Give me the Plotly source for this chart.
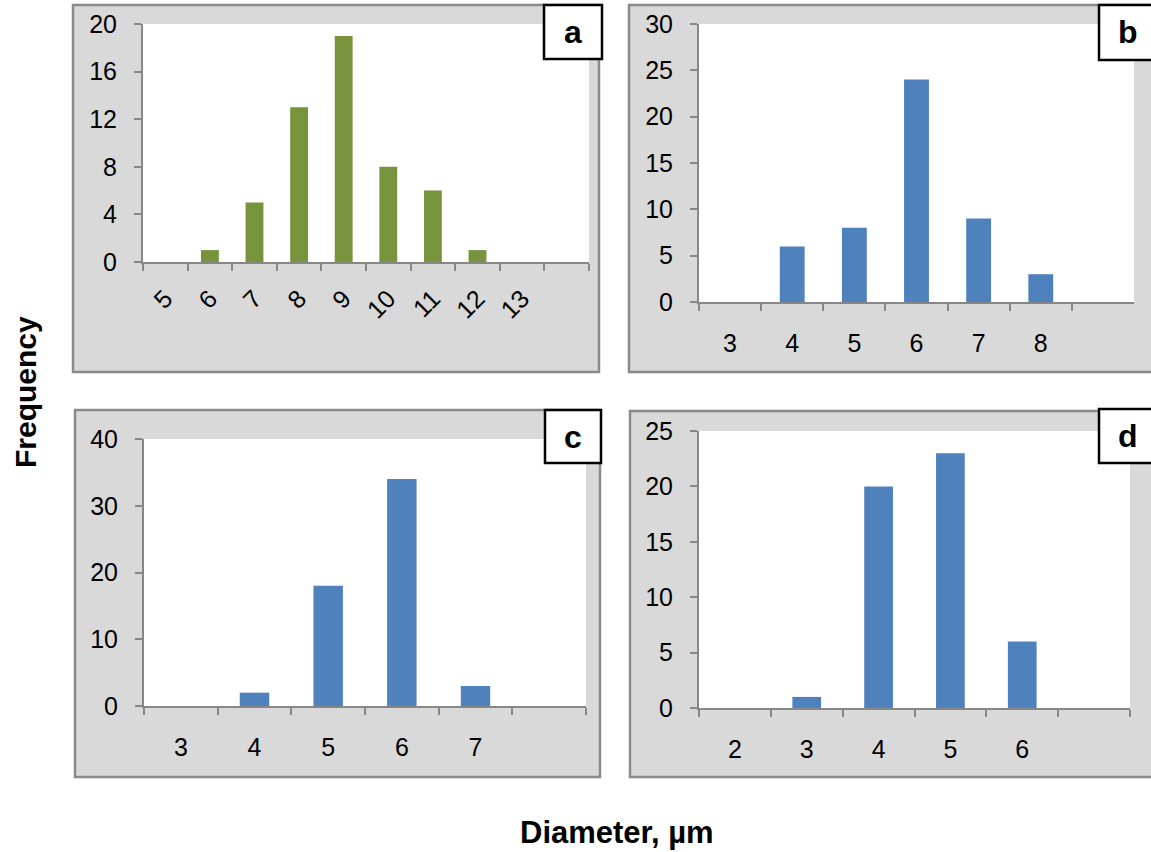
import plotly.graph_objects as go

W, H = 1151, 852

# ---- data ----
cats_a = ["5", "6", "7", "8", "9", "10", "11", "12", "13", " "]
vals_a = [0, 1, 5, 13, 19, 8, 6, 1, 0, 0]

cats_b = ["3", "4", "5", "6", "7", "8", " "]
vals_b = [0, 6, 8, 24, 9, 3, 0]

cats_c = ["3", "4", "5", "6", "7", " "]
vals_c = [0, 2, 18, 34, 3, 0]

cats_d = ["2", "3", "4", "5", "6", " "]
vals_d = [0, 1, 20, 23, 6, 0]

panel_letters = ["a", "b", "c", "d"]
y_ticks_a = [0, 4, 8, 12, 16, 20]
y_ticks_b = [0, 5, 10, 15, 20, 25, 30]
y_ticks_c = [0, 10, 20, 30, 40]
y_ticks_d = [0, 5, 10, 15, 20, 25]

GREEN = "#77933C"
BLUE = "#4F81BD"
AXC = "#878787"
FONT = "Liberation Sans, Arial, sans-serif"


def px_x(p):
    return p / W


def px_y(p):
    return 1 - p / H


# panel geometry (pixels): plot area and outer gray box and letter box
panels = [
    dict(cats=cats_a, vals=vals_a, color=GREEN, ticks=y_ticks_a, ymax=20,
         plot=(143, 589, 24, 262), box=(73, 599, 5, 372), lab=(544, 602, 5, 59), angle=-45),
    dict(cats=cats_b, vals=vals_b, color=BLUE, ticks=y_ticks_b, ymax=30,
         plot=(699, 1134, 24, 302), box=(629, 1160, 5, 372), lab=(1099, 1160, 5, 60), angle=0),
    dict(cats=cats_c, vals=vals_c, color=BLUE, ticks=y_ticks_c, ymax=40,
         plot=(144, 586, 439, 706), box=(75, 600, 410, 777), lab=(545, 601, 410, 463), angle=0),
    dict(cats=cats_d, vals=vals_d, color=BLUE, ticks=y_ticks_d, ymax=25,
         plot=(699, 1130, 431, 708), box=(630, 1160, 411, 777), lab=(1099, 1160, 409, 463), angle=0),
]
letter_x = [573, 1128, 573, 1128]

fig = go.Figure()
shapes = []
annotations = []
layout = {}

for i, p in enumerate(panels):
    n = "" if i == 0 else str(i + 1)
    xa, ya = "x" + n, "y" + n
    fig.add_trace(go.Bar(x=p["cats"], y=p["vals"], marker=dict(color=p["color"], line=dict(width=0)),
                         width=0.4, xaxis=xa, yaxis=ya, showlegend=False, hoverinfo="x+y"))
    x0, x1, y0, y1 = p["plot"]
    layout["xaxis" + n] = dict(
        domain=[px_x(x0), px_x(x1)], anchor=ya, type="category", automargin=False,
        showline=True, linecolor=AXC, linewidth=2, showgrid=False, zeroline=False,
        ticks="outside", tickson="boundaries", ticklen=7, tickwidth=2, tickcolor=AXC,
        tickangle=p["angle"], ticklabelstandoff=18 if p["angle"] == 0 else 10,
        tickfont=dict(family=FONT, size=25, color="#000000"), fixedrange=True,
    )
    layout["yaxis" + n] = dict(
        domain=[px_y(y1), px_y(y0)], anchor=xa, range=[0, p["ymax"]], automargin=False,
        tickvals=p["ticks"], showline=True, linecolor=AXC, linewidth=2,
        showgrid=False, zeroline=False, ticks="outside", ticklen=7, tickwidth=2, tickcolor=AXC,
        ticklabelstandoff=12, tickfont=dict(family=FONT, size=25, color="#000000"), fixedrange=True,
    )
    bx0, bx1, by0, by1 = p["box"]
    shapes.append(dict(type="rect", xref="paper", yref="paper", layer="below",
                       x0=px_x(bx0), x1=px_x(bx1), y0=px_y(by1), y1=px_y(by0),
                       fillcolor="#D9D9D9", line=dict(color="#8A8A8A", width=2.5)))
    shapes.append(dict(type="rect", xref=xa + " domain", yref=ya + " domain", layer="below",
                       x0=0, x1=1, y0=0, y1=1, fillcolor="#FFFFFF", line=dict(width=0)))
    lx0, lx1, ly0, ly1 = p["lab"]
    shapes.append(dict(type="rect", xref="paper", yref="paper", layer="above",
                       x0=px_x(lx0), x1=px_x(lx1), y0=px_y(ly1), y1=px_y(ly0),
                       fillcolor="#FFFFFF", line=dict(color="#000000", width=2.5)))
    annotations.append(dict(text="<b>%s</b>" % panel_letters[i], xref="paper", yref="paper",
                            x=px_x(letter_x[i]), y=px_y((ly0 + ly1) / 2), showarrow=False,
                            font=dict(family=FONT, size=32, color="#000000"),
                            xanchor="center", yanchor="middle"))

annotations.append(dict(text="<b>Frequency</b>", xref="paper", yref="paper", x=px_x(25), y=px_y(392),
                        showarrow=False, textangle=-90, font=dict(family=FONT, size=30, color="#000000"),
                        xanchor="center", yanchor="middle"))
annotations.append(dict(text="<b>Diameter, µm</b>", xref="paper", yref="paper", x=px_x(617), y=px_y(832),
                        showarrow=False, font=dict(family=FONT, size=31, color="#000000"),
                        xanchor="center", yanchor="middle"))

fig.update_layout(
    width=W, height=H, margin=dict(l=0, r=0, t=0, b=0, autoexpand=False),
    paper_bgcolor="#FFFFFF", plot_bgcolor="rgba(0,0,0,0)",
    shapes=shapes, annotations=annotations, showlegend=False,
    **layout,
)

fig.write_html("out.html", config={"displayModeBar": False})
